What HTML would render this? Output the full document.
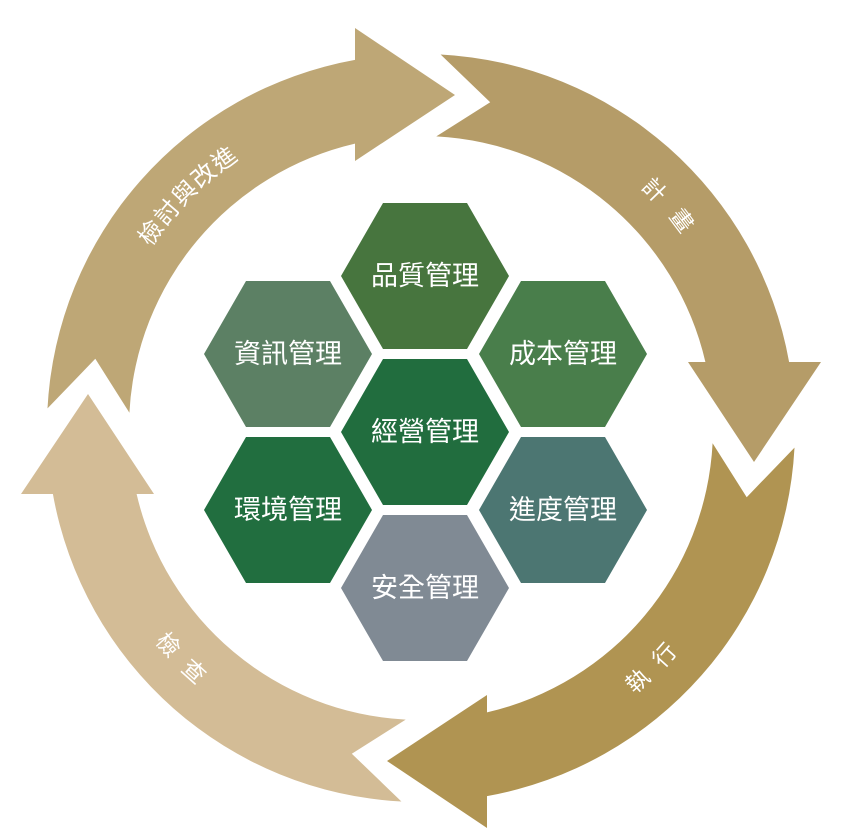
<!DOCTYPE html>
<html><head><meta charset="utf-8"><style>
html,body{margin:0;padding:0;background:#fff;}
svg{display:block;}
text{font-family:"Liberation Sans","Noto Sans CJK TC","Noto Sans CJK SC",sans-serif;fill:#fff;}
</style></head><body>
<svg width="841" height="840" viewBox="0 0 841 840" xmlns="http://www.w3.org/2000/svg">
<defs>
<path id="arw" d="M 47.5 408.4 A 374 374 0 0 1 355 59.9 L 355 28 L 455 95 L 355 161 L 355 143.6 A 292 292 0 0 0 129.4 412.7 L 95.3 358.8 Z"/>
<path id="t1" d="M 88 428 A 333 333 0 0 1 421 95" fill="none"/>
<path id="t2" d="M 421 95 A 333 333 0 0 1 754 428" fill="none"/>
<path id="t3" d="M 421 761 A 333 333 0 0 0 754 428" fill="none"/>
<path id="t4" d="M 88 428 A 333 333 0 0 0 421 761" fill="none"/>
</defs>
<use href="#arw" fill="#bea776"/>
<use href="#arw" fill="#b59c68" transform="rotate(90 421 428)"/>
<use href="#arw" fill="#b09452" transform="rotate(180 421 428)"/>
<use href="#arw" fill="#d3bc96" transform="rotate(270 421 428)"/>
<text font-size="24" dominant-baseline="central" text-anchor="middle" letter-spacing="2"><textPath href="#t1" startOffset="50%">檢討與改進</textPath></text>
<text font-size="23" dominant-baseline="central" text-anchor="middle" letter-spacing="18"><textPath href="#t2" startOffset="55%">計畫</textPath></text>
<text font-size="23" dominant-baseline="central" text-anchor="middle" letter-spacing="14"><textPath href="#t3" startOffset="50%">執行</textPath></text>
<text font-size="23" dominant-baseline="central" text-anchor="middle" letter-spacing="14"><textPath href="#t4" startOffset="50%">檢查</textPath></text>

<g font-size="27">
<polygon points="383,203 467,203 509,276 467,349 383,349 341,276" fill="#47753e"/>
<text x="425" y="276" text-anchor="middle" dominant-baseline="central">品質管理</text>
<polygon points="246,281 330,281 372,354 330,427 246,427 204,354" fill="#5c8064"/>
<text x="288" y="354" text-anchor="middle" dominant-baseline="central">資訊管理</text>
<polygon points="521,281 605,281 647,354 605,427 521,427 479,354" fill="#497e4b"/>
<text x="563" y="354" text-anchor="middle" dominant-baseline="central">成本管理</text>
<polygon points="383,359 467,359 509,432 467,505 383,505 341,432" fill="#216d3e"/>
<text x="425" y="432" text-anchor="middle" dominant-baseline="central">經營管理</text>
<polygon points="246,437 330,437 372,510 330,583 246,583 204,510" fill="#216e3f"/>
<text x="288" y="510" text-anchor="middle" dominant-baseline="central">環境管理</text>
<polygon points="521,437 605,437 647,510 605,583 521,583 479,510" fill="#4c7672"/>
<text x="563" y="510" text-anchor="middle" dominant-baseline="central">進度管理</text>
<polygon points="383,515 467,515 509,588 467,661 383,661 341,588" fill="#808a94"/>
<text x="425" y="588" text-anchor="middle" dominant-baseline="central">安全管理</text>
</g>
</svg>
</body></html>
